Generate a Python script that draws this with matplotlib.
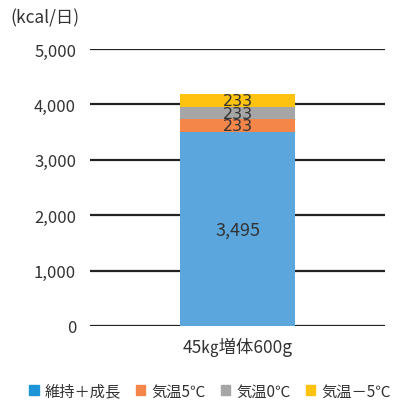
import matplotlib
matplotlib.use("Agg")
import matplotlib.pyplot as plt
from matplotlib.patches import Patch

plt.rcParams['font.family'] = ['Noto Sans CJK JP', 'DejaVu Sans']

categories = ["45㎏増体600g"]
series_names = ["維持＋成長", "気温5℃", "気温0℃", "気温－5℃"]
values = [[3495], [233], [233], [233]]
labels = ["3,495", "233", "233", "233"]
bar_colors = ["#5BA6DC", "#F4864A", "#A6A6A6", "#FFC20E"]
legend_colors = ["#1B95D6", "#F4864A", "#A6A6A6", "#FFC20E"]
yticks = [0, 1000, 2000, 3000, 4000, 5000]
yticklabels = ["0", "1,000", "2,000", "3,000", "4,000", "5,000"]

fig = plt.figure(figsize=(4.04, 4.02), dpi=100)
ax = fig.add_axes([90/404, 1-327/402, 295/404, 277/402])

txt = "#333333"
for y in yticks:
    ax.axhline(y, color="#222222", lw=1.6, zorder=0)

x = range(len(categories))
bottom = [0]*len(categories)
for name, vals, col, lab in zip(series_names, values, bar_colors, labels):
    ax.bar(x, vals, bottom=bottom, color=col, width=0.393, zorder=2)
    for i, v in enumerate(vals):
        if v > 1000:
            ax.text(i, bottom[i] + v/2, lab, ha="center", va="center",
                    fontsize=13, color=txt, zorder=3)
        else:
            ax.text(i, bottom[i] + v/2, lab, ha="center", va="center",
                    fontsize=11.5, color=txt, zorder=3, family="DejaVu Sans")
    bottom = [b + v for b, v in zip(bottom, vals)]

ax.set_xlim(-0.5, 0.5)
ax.set_ylim(0, 5000)
ax.set_yticks(yticks)
ax.set_yticklabels(yticklabels, fontsize=12, color=txt)
ax.set_xticks(list(x))
ax.set_xticklabels(categories, fontsize=12.5, color=txt)
ax.tick_params(length=0, axis="y", pad=10)
ax.tick_params(length=0, axis="x", pad=8)
for s in ax.spines.values():
    s.set_visible(False)

fig.text(10/404, 1-18/402, "(kcal/日)", fontsize=12.5, color=txt, ha="left", va="center")

handles = [Patch(color=c) for c in legend_colors]
fig.legend(handles, series_names, loc="center", bbox_to_anchor=(210/404, 1-392/402),
           ncol=4, frameon=False, fontsize=11, handlelength=0.6, handleheight=0.6,
           handletextpad=0.4, columnspacing=1.0, labelcolor=txt)

fig.savefig("out.png", dpi=100)
